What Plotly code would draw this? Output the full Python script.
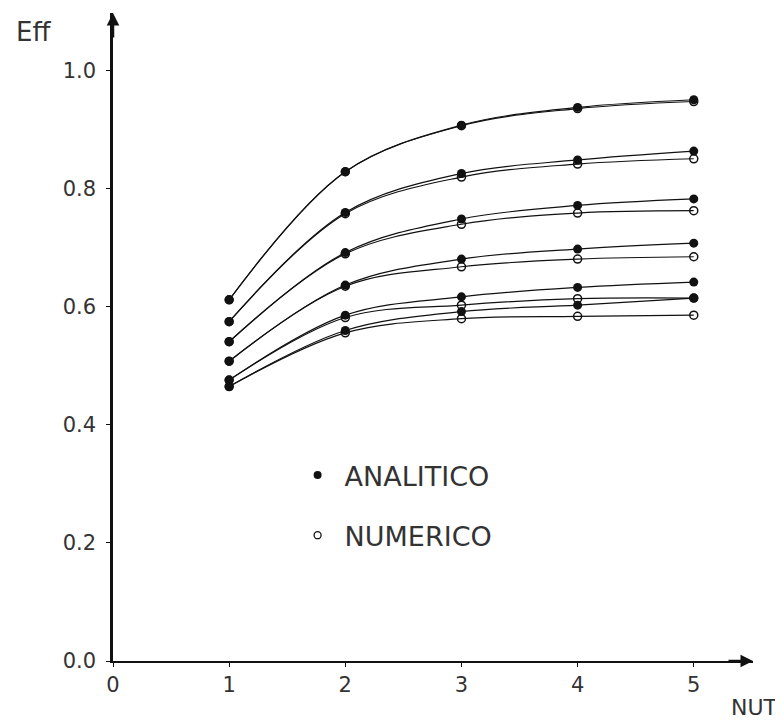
import plotly.graph_objects as go

# ---- data ----
nut = [1, 2, 3, 4, 5]

analitico = [
    [0.612, 0.829, 0.908, 0.938, 0.951],
    [0.575, 0.760, 0.826, 0.849, 0.864],
    [0.541, 0.692, 0.749, 0.772, 0.783],
    [0.508, 0.637, 0.681, 0.698, 0.708],
    [0.476, 0.586, 0.617, 0.633, 0.642],
    [0.465, 0.560, 0.592, 0.603, 0.615],
]
numerico = [
    [0.612, 0.829, 0.907, 0.936, 0.948],
    [0.575, 0.758, 0.820, 0.842, 0.851],
    [0.541, 0.690, 0.740, 0.759, 0.763],
    [0.508, 0.635, 0.668, 0.681, 0.685],
    [0.476, 0.582, 0.603, 0.614, 0.615],
    [0.465, 0.556, 0.580, 0.584, 0.586],
]

x_ticks = [0, 1, 2, 3, 4, 5]
y_ticks = [0.0, 0.2, 0.4, 0.6, 0.8, 1.0]
x_range = [0, 5.51]
y_range = [0, 1.098]

FONT = "DejaVu Sans"
INK = "#111"

fig = go.Figure()

for ys in numerico:
    fig.add_trace(go.Scatter(
        x=nut, y=ys, mode="lines+markers",
        line=dict(color=INK, width=1.2, shape="spline", smoothing=1.0),
        marker=dict(symbol="circle-open", size=8, color=INK, line=dict(width=1.5, color=INK)),
        showlegend=False, hoverinfo="skip"))

for ys in analitico:
    fig.add_trace(go.Scatter(
        x=nut, y=ys, mode="lines+markers",
        line=dict(color=INK, width=1.2, shape="spline", smoothing=1.0),
        marker=dict(symbol="circle", size=9, color=INK),
        showlegend=False, hoverinfo="skip"))

# legend entries
fig.add_trace(go.Scatter(x=[None], y=[None], mode="markers", name="ANALITICO",
                         legendgroup="a",
                         marker=dict(symbol="circle", size=8, color=INK)))
fig.add_trace(go.Scatter(x=[None], y=[None], mode="markers", name="NUMERICO",
                         legendgroup="n",
                         marker=dict(symbol="circle-open", size=7, color=INK,
                                     line=dict(width=1.3, color=INK))))

fig.update_layout(
    width=783, height=722,
    margin=dict(l=105, r=38, t=5, b=69),
    paper_bgcolor="white", plot_bgcolor="white",
    font=dict(family=FONT, color="#333"),
    showlegend=True,
    legend=dict(x=0.2775, y=0.324, xanchor="left", yanchor="top",
                bgcolor="rgba(0,0,0,0)", font=dict(family=FONT, size=27, color="#333"),
                traceorder="grouped", tracegroupgap=22, itemwidth=44),
    xaxis=dict(range=x_range, tickvals=x_ticks, ticktext=[str(v) for v in x_ticks],
               showgrid=False, zeroline=False, showline=True, linecolor=INK, linewidth=2,
               ticks="outside", ticklen=4, tickcolor=INK, tickwidth=1,
               tickfont=dict(family=FONT, size=21, color="#333")),
    yaxis=dict(range=y_range, tickvals=y_ticks, ticktext=[f"{v:.1f}" for v in y_ticks],
               showgrid=False, zeroline=False, showline=True, linecolor=INK, linewidth=2.5,
               ticks="outside", ticklen=4, tickcolor=INK, tickwidth=1,
               ticklabelstandoff=6,
               tickfont=dict(family=FONT, size=21, color="#333")),
)

# axis arrows
fig.add_annotation(x=x_range[1], y=0, xref="x", yref="y", ax=-26, ay=0,
                   showarrow=True, arrowhead=2, arrowsize=1, arrowwidth=2.5,
                   arrowcolor=INK, text="")
fig.add_annotation(x=0, y=y_range[1], xref="x", yref="y", ax=0, ay=26,
                   showarrow=True, arrowhead=2, arrowsize=1, arrowwidth=2.5,
                   arrowcolor=INK, text="")

# axis titles
fig.add_annotation(text="Eff", xref="paper", yref="paper", x=-0.155, y=0.971,
                   xanchor="left", yanchor="middle", showarrow=False,
                   font=dict(family=FONT, size=26, color="#333"))
fig.add_annotation(text="NUT", xref="paper", yref="paper", x=1.0415, y=-0.0725,
                   xanchor="right", yanchor="middle", showarrow=False,
                   font=dict(family=FONT, size=22, color="#333"))

fig.write_html("out.html")
